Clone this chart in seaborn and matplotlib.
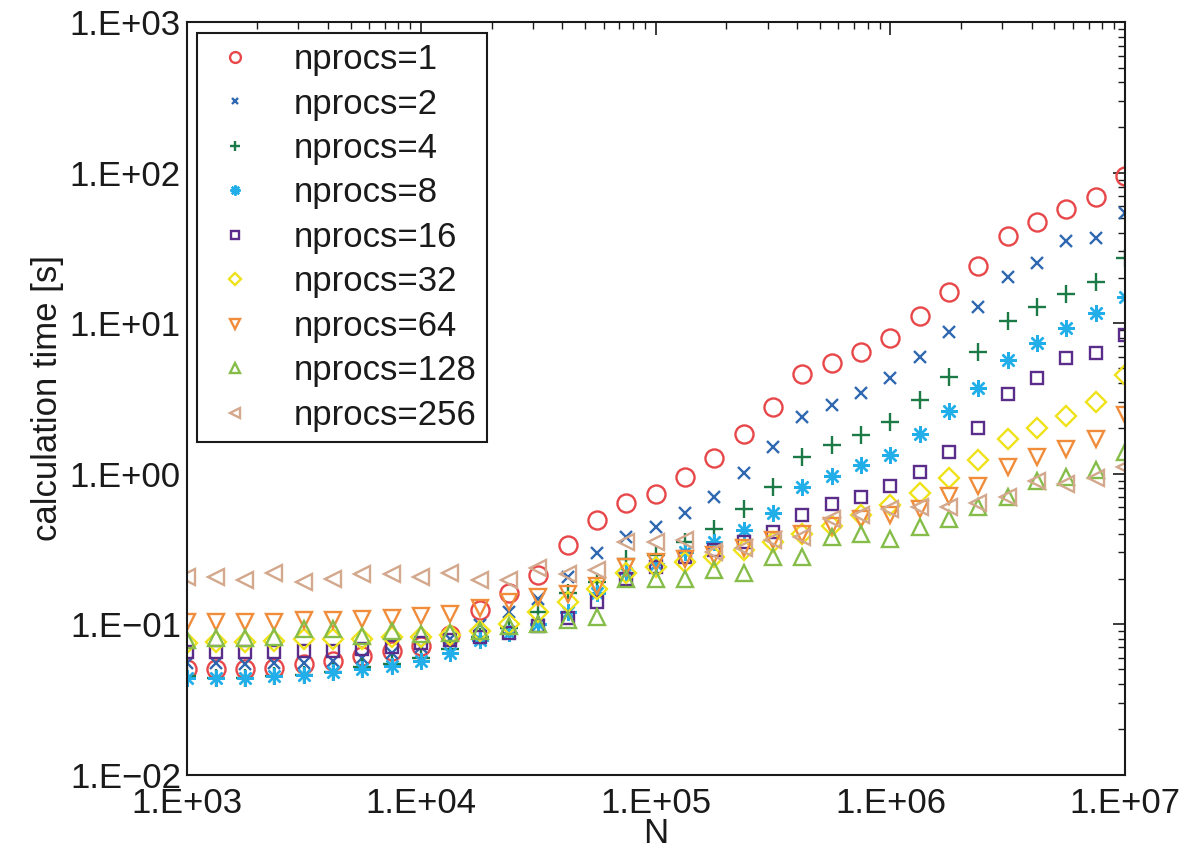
import numpy as np
import pandas as pd
import matplotlib
matplotlib.use('Agg')
import matplotlib.pyplot as plt
import matplotlib.ticker as mticker
import seaborn as sns

# problem sizes (8 points per decade)
N = [1000, 1334, 1778, 2371, 3162, 4217, 5623, 7499,
     10000, 13335, 17783, 23714, 31623, 42170, 56234, 74989,
     100000, 133352, 177828, 237137, 316228, 421697, 562341, 749894,
     1000000, 1333521, 1778279, 2371374, 3162278, 4216965, 5623413, 7498942,
     10000000]

# calculation time [s] per process count
t1 = [0.050, 0.050, 0.050, 0.051, 0.054, 0.057, 0.061, 0.066, 0.072, 0.085, 0.125, 0.160,
      0.213, 0.336, 0.49, 0.64, 0.73, 0.95, 1.27, 1.84, 2.77, 4.6, 5.4, 6.4, 8.0, 11.2,
      16.1, 24, 38, 47, 57, 69, 95]
t2 = [0.055, 0.055, 0.054, 0.055, 0.055, 0.057, 0.060, 0.064, 0.070, 0.080, 0.098, 0.120,
      0.146, 0.207, 0.297, 0.38, 0.44, 0.55, 0.70, 1.01, 1.5, 2.38, 2.86, 3.44, 4.3, 5.97,
      8.7, 12.8, 20.3, 25, 35, 37, 54]
t4 = [0.045, 0.044, 0.044, 0.045, 0.046, 0.048, 0.052, 0.054, 0.060, 0.068, 0.082, 0.095,
      0.12, 0.16, 0.19, 0.27, 0.29, 0.35, 0.43, 0.58, 0.81, 1.30, 1.56, 1.82, 2.21, 3.1,
      4.4, 6.4, 10.4, 12.9, 15.7, 18.8, 27]
t8 = [0.044, 0.044, 0.044, 0.045, 0.046, 0.048, 0.050, 0.053, 0.057, 0.064, 0.079, 0.088,
      0.10, 0.12, 0.16, 0.22, 0.25, 0.30, 0.35, 0.42, 0.55, 0.81, 0.96, 1.14, 1.34, 1.84,
      2.6, 3.7, 5.7, 7.4, 9.3, 11.7, 14.9]
t16 = [0.065, 0.065, 0.065, 0.065, 0.066, 0.066, 0.068, 0.070, 0.075, 0.078, 0.082, 0.088,
       0.097, 0.11, 0.14, 0.20, 0.24, 0.28, 0.31, 0.35, 0.41, 0.53, 0.63, 0.70, 0.83, 1.03,
       1.4, 2.0, 3.4, 4.3, 5.9, 6.3, 8.4]
t32 = [0.075, 0.076, 0.076, 0.077, 0.080, 0.080, 0.080, 0.082, 0.082, 0.085, 0.090, 0.10,
       0.12, 0.14, 0.17, 0.22, 0.24, 0.26, 0.28, 0.31, 0.35, 0.40, 0.45, 0.53, 0.62, 0.74,
       0.93, 1.23, 1.7, 2.0, 2.4, 3.0, 4.5]
t64 = [0.104, 0.104, 0.104, 0.104, 0.107, 0.107, 0.108, 0.110, 0.113, 0.117, 0.128, 0.140,
       0.152, 0.158, 0.18, 0.24, 0.26, 0.27, 0.29, 0.32, 0.36, 0.40, 0.45, 0.50, 0.53, 0.58,
       0.71, 0.83, 1.1, 1.29, 1.45, 1.69, 2.45]
t128 = [0.079, 0.081, 0.081, 0.082, 0.093, 0.093, 0.084, 0.090, 0.086, 0.087, 0.090, 0.097,
        0.10, 0.107, 0.112, 0.20, 0.20, 0.20, 0.23, 0.22, 0.28, 0.28, 0.38, 0.40, 0.37, 0.44,
        0.50, 0.60, 0.70, 0.90, 0.95, 1.05, 1.39]
t256 = [0.206, 0.206, 0.196, 0.22, 0.19, 0.20, 0.215, 0.215, 0.206, 0.22, 0.196, 0.196,
        0.235, 0.215, 0.23, 0.35, 0.35, 0.36, 0.30, 0.32, 0.36, 0.38, 0.50, 0.53, 0.58, 0.60,
        0.60, 0.64, 0.70, 0.90, 0.86, 0.94, 1.1]

labels = ['nprocs=1', 'nprocs=2', 'nprocs=4', 'nprocs=8', 'nprocs=16',
          'nprocs=32', 'nprocs=64', 'nprocs=128', 'nprocs=256']
series = [t1, t2, t4, t8, t16, t32, t64, t128, t256]
colors = ['#e8474a', '#2f68b0', '#1b7a45', '#22aee8', '#5a2d8a',
          '#f0e21a', '#f08c3a', '#86bd4a', '#d3a88c']
markers = ['o', 'x', '+', (8, 2, 0), 's', 'D', 'v', '^', '<']
msizes = [13, 8, 13, 12, 9, 10, 12, 12, 12]

sns.set_style('white')
plt.rcParams['font.family'] = ['Liberation Sans', 'DejaVu Sans']

fig, ax = plt.subplots(figsize=(11.88, 8.55), dpi=100)
fig.subplots_adjust(left=0.157, right=0.947, top=0.974, bottom=0.094)

for lab, vals, c, m, ms in zip(labels, series, colors, markers, msizes):
    df = pd.DataFrame({'N': N, 'time': vals})
    sns.lineplot(data=df, x='N', y='time', ax=ax, label=lab, linestyle='',
                 marker=m, markersize=ms, markerfacecolor='none',
                 markeredgecolor=c, color=c, markeredgewidth=1.7)

ax.set_xscale('log')
ax.set_yscale('log')
ax.set_xlim(1e3, 1e7)
ax.set_ylim(1e-2, 1e3)


def sci(v, pos):
    e = int(round(np.log10(v)))
    s = '+' if e >= 0 else '\u2212'
    return f'1.E{s}{abs(e):02d}'


ax.xaxis.set_major_formatter(mticker.FuncFormatter(sci))
ax.yaxis.set_major_formatter(mticker.FuncFormatter(sci))
ax.xaxis.set_major_locator(mticker.LogLocator(base=10, numticks=10))
ax.yaxis.set_major_locator(mticker.LogLocator(base=10, numticks=10))
ax.xaxis.set_minor_locator(mticker.LogLocator(base=10, subs=np.arange(2, 10), numticks=20))
ax.yaxis.set_minor_locator(mticker.LogLocator(base=10, subs=np.arange(2, 10), numticks=20))
ax.xaxis.set_minor_formatter(mticker.NullFormatter())
ax.yaxis.set_minor_formatter(mticker.NullFormatter())

ax.tick_params(which='both', direction='in', top=True, right=True,
               labelsize=25, colors='#1a1a1a')
ax.tick_params(which='major', length=9, width=1.2)
ax.tick_params(which='minor', length=5, width=1.0)
ax.tick_params(axis='x', pad=9)
ax.tick_params(axis='y', pad=4)
for sp in ax.spines.values():
    sp.set_color('#1a1a1a')
    sp.set_linewidth(1.5)

ax.set_xlabel('N', fontsize=25, labelpad=-2, color='#1a1a1a')
ax.set_ylabel('calculation time [s]', fontsize=25, labelpad=4, color='#1a1a1a')

leg = ax.legend(loc='upper left', fontsize=25, frameon=True, fancybox=False,
                edgecolor='#1a1a1a', markerscale=0.6, handlelength=1.6,
                handletextpad=0.9, labelspacing=0.33, borderpad=0.3,
                borderaxespad=0.3, framealpha=1)
leg.get_frame().set_linewidth(1.5)
for txt in leg.get_texts():
    txt.set_color('#1a1a1a')

plt.savefig('out.png', dpi=100)
